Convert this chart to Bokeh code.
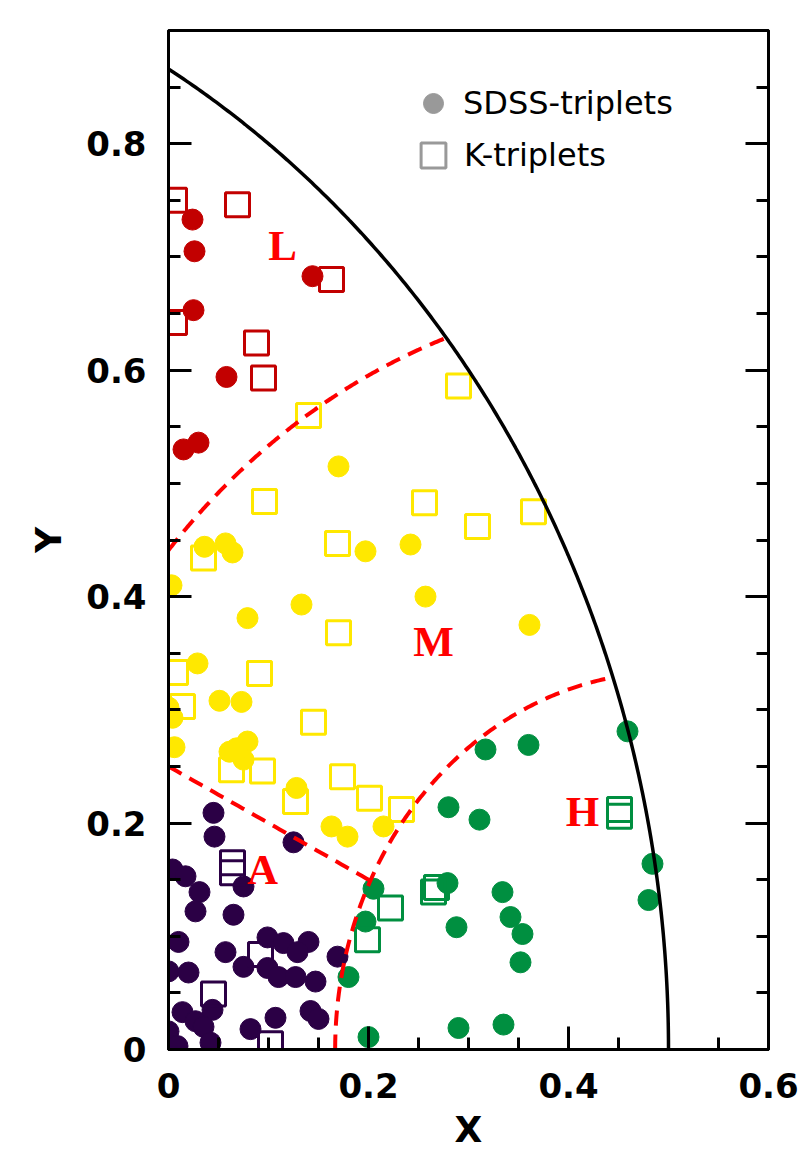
import numpy as np
from bokeh.plotting import figure
from bokeh.models import (Range1d, LinearAxis, SingleIntervalTicker, Legend, LegendItem)
from bokeh.embed import file_html
from bokeh.resources import INLINE
from bokeh.core.properties import value

# ---------------- data ----------------
# Region L (dark red)
L_sdss_x = [0.024, 0.026, 0.025, 0.144, 0.058, 0.015, 0.030]
L_sdss_y = [0.733, 0.705, 0.653, 0.683, 0.594, 0.530, 0.536]
L_k_x = [0.006, 0.069, 0.163, 0.006, 0.088, 0.095]
L_k_y = [0.750, 0.746, 0.680, 0.642, 0.624, 0.593]

# Region M (yellow)
M_sdss_x = [0.170, 0.036, 0.057, 0.064, 0.197, 0.242, 0.003, 0.079, 0.133, 0.257, 0.361,
            0.029, 0.051, 0.073, 0.000, 0.004, 0.006, 0.061, 0.079, 0.075, 0.068, 0.128,
            0.163, 0.179, 0.215]
M_sdss_y = [0.515, 0.444, 0.447, 0.439, 0.440, 0.446, 0.410, 0.381, 0.393, 0.400, 0.375,
            0.341, 0.308, 0.307, 0.302, 0.293, 0.267, 0.263, 0.272, 0.256, 0.266, 0.231,
            0.197, 0.188, 0.197]
M_k_x = [0.140, 0.096, 0.256, 0.169, 0.035, 0.170, 0.309, 0.365, 0.290, 0.007, 0.091,
         0.014, 0.145, 0.063, 0.094, 0.127, 0.174, 0.201, 0.233]
M_k_y = [0.560, 0.484, 0.483, 0.447, 0.434, 0.368, 0.462, 0.475, 0.586, 0.333, 0.332,
         0.303, 0.289, 0.247, 0.246, 0.219, 0.241, 0.222, 0.212]

# Region H (green)
H_sdss_x = [0.459, 0.317, 0.360, 0.280, 0.311, 0.484, 0.480, 0.279, 0.334, 0.342, 0.354,
            0.352, 0.288, 0.290, 0.335, 0.205, 0.197, 0.180, 0.200]
H_sdss_y = [0.281, 0.265, 0.269, 0.214, 0.203, 0.164, 0.132, 0.147, 0.139, 0.117, 0.102,
            0.077, 0.108, 0.019, 0.022, 0.142, 0.113, 0.064, 0.011]
H_k_x = [0.222, 0.199, 0.265, 0.268, 0.451, 0.451]
H_k_y = [0.125, 0.097, 0.139, 0.143, 0.212, 0.206]

# Region A (dark purple)
A_sdss_x = [0.045, 0.046, 0.125, 0.004, 0.017, 0.031, 0.075, 0.027, 0.065, 0.010, 0.057,
            0.099, 0.115, 0.140, 0.129, 0.075, 0.099, 0.110, 0.127, 0.147, 0.169, 0.000,
            0.020, 0.014, 0.027, 0.044, 0.035, 0.000, 0.009, 0.042, 0.082, 0.107, 0.142,
            0.150]
A_sdss_y = [0.209, 0.188, 0.183, 0.159, 0.153, 0.139, 0.144, 0.122, 0.119, 0.095, 0.086,
            0.099, 0.094, 0.095, 0.086, 0.073, 0.072, 0.064, 0.064, 0.060, 0.082, 0.069,
            0.068, 0.033, 0.025, 0.035, 0.020, 0.016, 0.003, 0.006, 0.018, 0.028, 0.034,
            0.027]
A_k_x = [0.064, 0.064, 0.092, 0.045, 0.102]
A_k_y = [0.165, 0.156, 0.084, 0.049, 0.005]

region_colors = {"L": "#C20000", "M": "#FFE800", "H": "#008F40", "A": "#2B0045"}

region_names = ["L", "M", "H", "A"]
region_label_x = [0.114, 0.265, 0.414, 0.094]
region_label_y = [0.710, 0.360, 0.210, 0.159]

x_ticks = [0, 0.2, 0.4, 0.6]
x_tick_labels = ["0", "0.2", "0.4", "0.6"]
y_ticks = [0, 0.2, 0.4, 0.6, 0.8]
y_tick_labels = ["0", "0.2", "0.4", "0.6", "0.8"]
x_title = "X"
y_title = "Y"

legend_labels = ["SDSS-triplets", "K-triplets"]

# ---------------- figure ----------------
p = figure(width=800, height=1152, output_backend="svg", toolbar_location=None,
           x_range=Range1d(0, 0.6000001), y_range=Range1d(0, 0.9),
           min_border_left=168, min_border_right=32, min_border_top=30, min_border_bottom=103)
p.xgrid.visible = False
p.ygrid.visible = False
p.background_fill_color = "white"
p.border_fill_color = "white"
p.outline_line_color = "black"
p.outline_line_width = 3


def style_axis(ax):
    ax.axis_line_width = 3
    ax.axis_line_color = "black"
    ax.major_tick_line_width = 3
    ax.minor_tick_line_width = 3
    ax.major_tick_line_color = "black"
    ax.minor_tick_line_color = "black"
    ax.major_tick_in = 23
    ax.major_tick_out = 0
    ax.minor_tick_in = 12
    ax.minor_tick_out = 0
    ax.major_label_text_font = "DejaVu Sans"
    ax.major_label_text_font_style = "bold"
    ax.major_label_text_font_size = "34px"
    ax.major_label_text_color = "black"
    ax.axis_label_text_font = "DejaVu Sans"
    ax.axis_label_text_font_style = "bold"
    ax.axis_label_text_font_size = "36px"
    ax.axis_label_text_color = "black"


xax = p.xaxis[0]
xax.ticker = SingleIntervalTicker(interval=0.2, num_minor_ticks=4)
xax.major_label_overrides = {t: s for t, s in zip(x_ticks, x_tick_labels)}
style_axis(xax)
xax.major_label_standoff = 23
xax.axis_label = x_title
xax.axis_label_standoff = 8

yax = p.yaxis[0]
yax.ticker = SingleIntervalTicker(interval=0.2, num_minor_ticks=4)
yax.major_label_overrides = {t: s for t, s in zip(y_ticks, y_tick_labels)}
style_axis(yax)
yax.major_label_standoff = 22
yax.axis_label = y_title
yax.axis_label_standoff = 14

# right frame edge: inward ticks only, no labels
rax = LinearAxis(ticker=SingleIntervalTicker(interval=0.2, num_minor_ticks=4))
style_axis(rax)
rax.major_label_text_font_size = "1px"
rax.major_label_text_color = None
rax.major_label_standoff = 0
p.add_layout(rax, "right")

# ---------------- points ----------------
groups = [("A", A_sdss_x, A_sdss_y, A_k_x, A_k_y),
          ("M", M_sdss_x, M_sdss_y, M_k_x, M_k_y),
          ("L", L_sdss_x, L_sdss_y, L_k_x, L_k_y),
          ("H", H_sdss_x, H_sdss_y, H_k_x, H_k_y)]
for name, sx, sy, kx, ky in groups:
    c = region_colors[name]
    p.scatter(sx, sy, marker="circle", size=21, fill_color=c, line_color=c, line_width=1)
for name, sx, sy, kx, ky in groups:
    c = region_colors[name]
    p.scatter(kx, ky, marker="square", size=24, fill_alpha=0, line_color=c, line_width=3)

# ---------------- region boundaries ----------------
# outer boundary: circle centre (-0.5, 0), radius 1
t = np.linspace(0, np.pi / 3, 300)
p.line(-0.5 + np.cos(t), np.sin(t), line_color="black", line_width=3.5)

# L boundary: circle centre (0.5, 0), radius 2/3
r2 = 2.0 / 3.0
t = np.linspace(np.arccos(-0.5 / r2), np.arccos((5.0 / 18.0 - 0.5) / r2), 200)
p.line(0.5 + r2 * np.cos(t), r2 * np.sin(t), line_color="#FF0000", line_width=4,
       line_dash="15 9")

# H boundary: circle centre (0.5, 0), radius 1/3
r3 = 1.0 / 3.0
t = np.linspace(np.pi, np.arccos((4.0 / 9.0 - 0.5) / r3), 200)
p.line(0.5 + r3 * np.cos(t), r3 * np.sin(t), line_color="#FF0000", line_width=4,
       line_dash="15 9")

# A boundary: straight line y = 0.25 - 0.5 x up to the H circle
xa_end = (1 - np.sqrt(1 - 4 * (0.0625 + 0.25 - 1 / 9) / 1.25)) / 2
xa = np.linspace(0, xa_end, 50)
p.line(xa, 0.25 - 0.5 * xa, line_color="#FF0000", line_width=4, line_dash="15 9")

# region labels
p.text(x=region_label_x, y=region_label_y, text=region_names, text_color="#FF0000",
       text_font=value("Liberation Serif"), text_font_style="bold", text_font_size="43px",
       text_align="center", text_baseline="middle")

# ---------------- legend ----------------
leg_c = p.scatter([np.nan], [np.nan], marker="circle", fill_color="#999999",
                  line_color="#999999")
leg_s = p.scatter([np.nan], [np.nan], marker="square", fill_alpha=0, line_color="#999999",
                  line_width=3)

legend1 = Legend(items=[LegendItem(label=legend_labels[0], renderers=[leg_c])],
                 location=(240, 921), glyph_width=50, glyph_height=50, label_standoff=5,
                 padding=0, spacing=0, border_line_color=None, background_fill_alpha=0,
                 label_text_font="DejaVu Sans", label_text_font_size="32px",
                 label_text_color="black")
legend2 = Legend(items=[LegendItem(label=legend_labels[1], renderers=[leg_s])],
                 location=(234, 863), glyph_width=62, glyph_height=62, label_standoff=0,
                 padding=0, spacing=0, border_line_color=None, background_fill_alpha=0,
                 label_text_font="DejaVu Sans", label_text_font_size="32px",
                 label_text_color="black")
p.add_layout(legend1)
p.add_layout(legend2)

open("out.html", "w").write(file_html(p, INLINE))
